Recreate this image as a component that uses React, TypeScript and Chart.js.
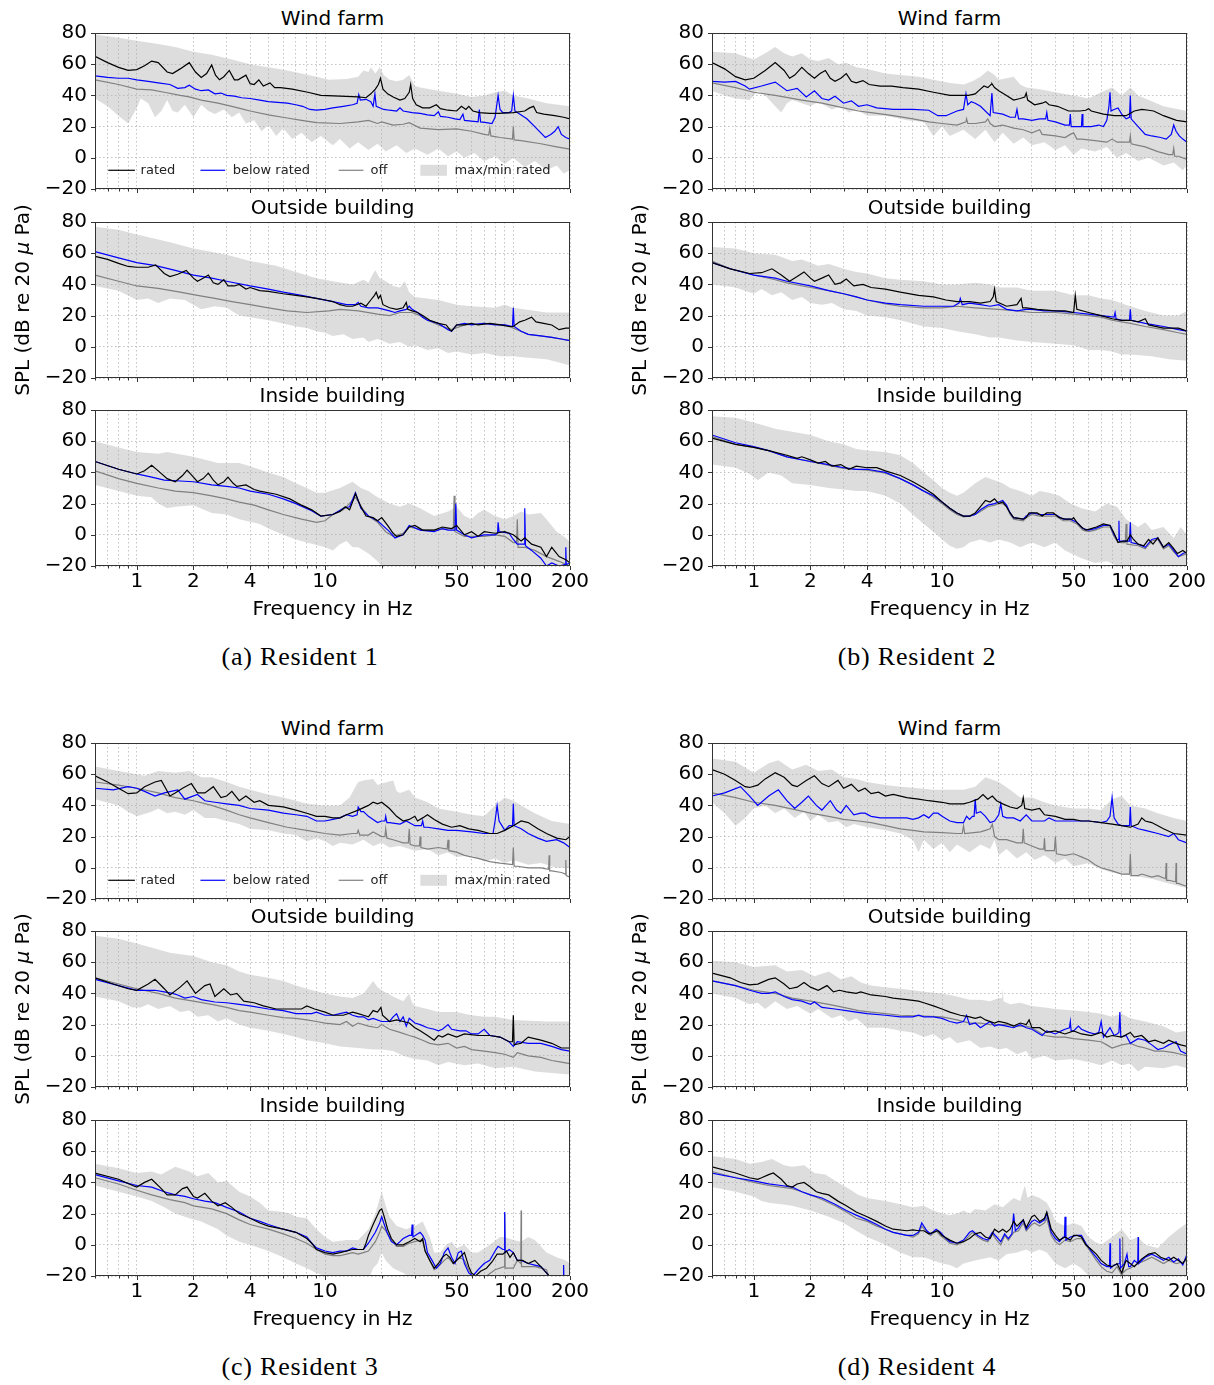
import React, { useEffect, useRef } from "react";
import { Chart, registerables } from "chart.js";

Chart.register(...registerables);

type P = [number, number];

// ===================== DATA (frequency in Hz, SPL in dB) =====================
// ---------- Resident 1 ----------
const r1WfRated: P[] = [[0.6,65],[0.7,61],[0.8,58],[0.9,56],[1.0,56.5],[1.1,59],[1.2,62],[1.3,61],[1.45,55],[1.55,54],[1.7,57],[1.9,61],[2.05,55],[2.2,51.5],[2.35,54],[2.5,59.5],[2.62,53],[2.75,50],[2.9,52],[3.1,56],[3.3,50],[3.45,50],[3.8,53],[4.0,47.5],[4.2,47],[4.45,50],[4.7,46],[5.1,48],[5.4,45],[5.8,45],[6.7,44],[8.1,42],[9.5,40],[12,39.5],[15,39],[16.5,38.5],[17.5,41],[18.5,44],[19.2,47],[19.7,51],[20.3,44],[21.5,41],[23,39],[25,37],[26.5,38],[28,42],[28.5,47],[29.2,38],[30.5,34],[33,32],[36,32],[39,34],[41,31.5],[45,30.5],[50,30],[53,33],[56,31],[58,33],[61,30],[66,29],[75,28.5],[83,28.5],[100,29],[115,30],[122,32],[128,33],[133,29],[145,28],[166,27],[185,26],[200,25]];
const r1WfBelow: P[] = [[0.6,52.5],[0.7,51.5],[0.8,51],[0.9,51],[1.0,50],[1.15,49],[1.3,48],[1.5,47],[1.65,44.5],[1.8,45],[1.9,46.5],[2.05,44],[2.2,43],[2.4,43.5],[2.6,41],[2.8,41.5],[3.0,40],[3.3,39.5],[3.6,38.5],[4.0,38],[4.5,37],[5,36],[5.6,35.5],[6.3,35],[7.0,34],[7.6,33],[8.3,31],[9.0,30.5],[10,31],[11,32],[12.5,33],[14,34],[14.8,35],[15.1,40.5],[15.4,37],[16.5,37.5],[17.5,36],[18.0,33],[18.4,41],[18.7,33],[20.5,31],[22,30.5],[24,30],[25,32],[26,30],[29,29],[32,28.5],[35,27.5],[38,27],[40,29.5],[41,26.5],[45,26],[49,25],[52,24.5],[54,28],[55,24],[60,23.5],[65,23],[66,31],[67,23],[72,22.5],[77,22],[80,26],[83,40],[85,31],[88,29],[95,29],[98,30],[100,40],[102,30],[108,28],[118,25],[130,20],[140,16],[148,13],[158,15],[166,17],[173,20],[180,15],[190,13],[200,12]];
const r1WfOff: P[] = [[0.6,50],[0.8,47],[1.0,44],[1.2,43.5],[1.4,42],[1.7,40],[1.9,39],[2.2,37],[2.7,35],[3.2,33],[3.7,31],[4.0,30],[5,27.5],[6.3,25.5],[7.5,24],[9,22.5],[12,22],[15,23],[17,24],[19,22],[20,23],[23,21],[26,21.5],[28,22.5],[32,19],[40,18],[50,18.5],[60,17],[70,15],[74,14.5],[75,19],[76,14],[85,13],[99,12],[100,20],[101,11.5],[110,11],[140,9],[170,7],[200,5.5]];
const r1WfMax: P[] = [[0.6,79],[0.8,77],[1.0,75],[1.3,73],[1.6,71],[2,68],[2.5,66],[3.2,63],[4,60],[5,58],[6.3,56],[7.5,54],[9,52],[10.5,50],[13,50.5],[15,52],[16,56],[17,55],[17.5,58],[18.5,54],[19.5,58],[20.5,53],[22,50],[24,49],[26,50],[28,53],[30,46],[32,45],[40,43],[50,41],[60,39],[70,40],[80,42],[90,43],[100,40],[120,38],[150,35],[200,33]];
const r1WfMin: P[] = [[0.6,38],[0.7,33],[0.8,27],[0.9,22],[1.0,32],[1.05,38],[1.15,35],[1.25,26],[1.35,30],[1.45,37],[1.55,30],[1.65,29],[1.8,34],[2.0,26],[2.2,34],[2.4,30],[2.6,28],[2.9,31],[3.2,26],[3.5,29],[3.8,22],[4.2,24],[4.6,17],[5,21],[5.5,14],[6,19],[6.7,12],[7.5,16],[8.5,10],[9.5,14],[11,8],[12,12],[13.5,6],[15,10],[17,5],[19,9],[21,4],[24,8],[27,3],[30,6],[35,2],[40,6],[45,1],[50,4],[55,0],[62,3],[70,-2],[80,1],[90,-4],[100,0],[115,-6],[130,-2],[150,-8],[170,-5],[185,-10],[200,-8]];

const r1OutRated: P[] = [[0.6,58],[0.7,56],[0.8,53.5],[0.9,51.5],[1.0,51],[1.15,51],[1.26,52.5],[1.4,47],[1.5,45],[1.65,46.5],[1.83,49],[2.0,44],[2.1,42],[2.25,44],[2.4,46],[2.55,41],[2.7,40],[2.9,43],[3.05,39],[3.3,39],[3.5,40],[3.8,37],[4.0,38],[4.5,36],[5,35.5],[6,34],[7,33],[8,32],[9,31],[10,30],[11,29],[12,27],[13,26],[14,26],[15.5,28],[16.5,26],[17.5,30],[18.3,33],[18.7,35],[19.2,31],[19.7,33],[20.3,27],[22,25],[24,24],[26,25],[27,28.5],[27.5,24],[29,23],[31,22],[33,20],[36,17],[40,15],[44,14],[46,11],[47,10],[50,14],[55,14],[60,15],[65,14],[75,15],[85,14],[95,13],[100,13],[108,16],[115,17],[125,19],[132,16],[145,15],[160,14],[175,11],[190,12],[200,12]];
const r1OutBelow: P[] = [[0.6,61],[0.8,57],[1.0,54],[1.26,52],[1.6,49],[2,46],[2.5,44],[3,42],[4,39],[5,37],[6,35],[7.5,33],[9,31],[11,29],[13,27],[14.5,27],[15,28.5],[15.5,26],[17,25],[19,25],[20.5,24],[22,23],[23.5,22],[25,23],[27,24],[28,26],[29,24],[31,22],[33,19],[35,17],[40,15],[45,11],[47,10],[50,14],[55,15],[60,14],[70,15],[80,14],[90,14],[99,13],[100,25],[101,13],[110,10],[120,8],[140,7],[160,6],[180,5],[200,4]];
const r1OutOff: P[] = [[0.6,46],[0.8,42],[1.0,39],[1.3,37.5],[1.7,35],[2.1,33],[2.6,31],[3.2,29],[4,27],[5,25],[6.3,23],[8,22],[10.5,23],[12,24],[15,23],[19,21],[22,20],[25,22],[29,22],[32,20],[35,17],[40,14],[47,11],[55,14],[70,15],[90,14],[100,12],[120,8],[160,6],[200,4]];
const r1OutMax: P[] = [[0.6,77],[0.8,75],[1.0,72],[1.5,67],[2,63],[3,59],[4,55],[5.5,52],[7,48],[9,44],[11,42],[14,40],[16,43],[17,41],[18,47],[18.5,49],[19.5,44],[21,42],[23,39],[25,38],[26.5,42],[28,35],[30,32],[40,30],[50,27],[60,26],[80,25],[90,27],[100,25],[150,22],[200,22]];
const r1OutMin: P[] = [[0.6,39],[0.8,36],[1.0,30],[1.15,31],[1.3,28],[1.5,31],[1.8,30],[2.2,24],[2.6,26],[3,25],[3.5,20],[4,19],[5,17],[6,15],[7,13],[8,12],[9,10],[10,9],[11,7],[12.5,8],[14,5],[16,6],[17,3],[19,5],[20,4],[22,2],[25,3],[28,0],[30,1],[35,-2],[40,-1],[45,-4],[50,-3],[60,-5],[70,-4],[85,-6],[100,-6],[120,-7],[150,-8],[175,-10],[200,-12]];

const r1InRated: P[] = [[0.6,47],[0.8,42],[1.0,39],[1.1,41],[1.2,44.5],[1.3,41],[1.45,36],[1.6,34],[1.75,38],[1.85,41.5],[2.0,37],[2.1,34],[2.25,36],[2.4,39.5],[2.55,35],[2.7,32],[2.9,34],[3.05,37],[3.25,33],[3.4,31],[3.8,32],[4.2,29],[4.5,28],[5.5,26],[6.5,23],[7.5,19],[8.5,16],[9.5,12],[11,13],[12,15],[12.8,18],[13.5,16],[14.2,23],[14.5,26.5],[15,22],[15.5,18],[16.5,12],[18,11],[19,9],[20,11],[21.5,6],[23,1],[24,-1],[26,0],[28,5],[30,6],[33,3],[38,3],[42,5],[47,4],[50,6],[55,0],[60,2],[65,-1],[70,2],[80,1],[90,2],[100,0],[110,-4],[115,-2],[125,-6],[140,-8],[150,-14],[160,-8],[175,-14],[190,-16],[200,-18]];
const r1InBelow: P[] = [[0.6,47],[0.8,42],[1.0,39],[1.2,37],[1.4,35],[1.7,34.5],[2,34],[2.5,32],[3,31],[3.5,30],[4,28],[5,26],[6,23],[7,20],[8.3,16],[9.5,12],[11,13],[12.5,17],[13.5,18],[14.5,27],[15.5,17],[17,12],[19,9],[22,2],[23.5,-2],[26,0],[28,6],[32,3],[38,2],[42,4],[45,3],[49,3],[49.5,20],[50,3],[55,0],[60,-2],[70,0],[80,0],[82.5,1],[83,8],[84,2],[95,1],[100,-3],[105,-6],[114,-6],[115,17],[116,-7],[125,-10],[140,-15],[150,-20],[160,-18],[175,-20],[189,-19],[190,-8],[191,-19],[200,-18]];
const r1InOff: P[] = [[0.6,41],[0.8,36],[1.0,33],[1.3,30],[1.6,28],[2,27],[2.5,25],[3,23],[3.5,21],[4.2,19],[5,16],[6,13],[7.5,10],[9,8],[10,9],[11,13],[12.5,16],[14.5,24],[16,16],[17,12],[19,8],[21,2],[23,-1],[26,1],[28,5],[33,3],[38,3],[45,4],[48,4],[48.5,25],[49,2],[55,-1],[70,-1],[80,0],[90,-1],[100,-5],[104,-5],[105,10],[106,-8],[115,-8],[130,-10],[150,-14],[175,-17],[200,-20]];
const r1InMax: P[] = [[0.6,60],[0.8,56],[1.0,53],[1.3,52],[1.45,53],[2,50],[2.7,46],[3.5,46],[4,44],[5,40],[6,37],[7,33],[8,30],[9,27],[10,27],[12,30],[14,34],[15.5,30],[17,28],[19,24],[22,20],[25,18],[28,20],[32,17],[38,12],[45,15],[50,18],[55,12],[60,10],[65,14],[70,16],[80,12],[90,10],[100,12],[110,15],[120,13],[140,14],[150,10],[170,2],[190,-2],[200,-5]];
const r1InMin: P[] = [[0.6,32],[0.8,28],[1.0,25],[1.2,24],[1.3,20],[1.45,17],[1.6,18],[2,19],[2.5,14],[3,13],[3.5,10],[4.5,7],[5,4],[6,0],[7,-3],[8,-5],[10,-8],[11,-10],[12,-6],[13,-4],[14,-8],[15,-8],[17,-12],[19,-17],[20,-20],[22,-25],[200,-25]];

// ---------- Resident 2 ----------
const r2WfRated: P[] = [[0.6,61],[0.7,57],[0.8,52],[0.9,50],[1.0,51],[1.15,56],[1.3,61],[1.45,56],[1.55,51],[1.65,53],[1.8,58],[1.95,54],[2.1,51],[2.25,54],[2.4,56],[2.55,51],[2.7,49],[2.9,51],[3.1,54],[3.3,49],[3.5,48],[3.8,49.5],[4.1,47],[4.7,46],[5.4,46],[6.2,45],[7.5,44],[9,42],[11,40],[12,40],[13.8,40],[15,41],[16,44],[16.7,46],[17.5,45],[18.2,47],[18.4,47.5],[19,45],[20,43],[22,40],[24,37],[26,38],[27.5,39],[28,41.5],[28.5,37],[31,34],[34,35],[35.5,36],[37,34],[41,33],[47,30],[54,30],[58,30.5],[60,31.5],[62,30],[72,28],[82,27],[95,27],[105,30],[115,31],[125,30.5],[133,30],[150,27],[176,24],[200,23]];
const r2WfBelow: P[] = [[0.6,49],[0.7,48.5],[0.8,49],[0.9,46],[0.95,44],[1.1,46],[1.3,48.5],[1.5,43],[1.7,44.5],[1.9,39],[2.1,43],[2.3,38],[2.5,37],[2.7,39.5],[3.0,35],[3.3,36.5],[3.6,33],[4,34],[4.5,32],[5.5,31],[7,31],[8.5,30.5],[9.5,27],[10.5,27],[12,30],[13,31],[13.4,41],[13.7,34],[14.3,36],[15,35],[16,33],[18,27],[18.4,41.5],[18.7,29],[21,28],[23,26],[24.5,26],[25,31],[25.5,25],[27,25],[30,24],[33,25],[35.5,25],[36,29],[36.5,24],[40,23],[45,21],[47.5,21],[48,28],[48.5,20],[52,20],[55,20],[55.5,28],[56,20],[62,20],[68,21],[72,20],[75,24],[77,33],[78,42],[79,30],[82,31],[86,32],[90,28],[95,25],[99,26],[100,40],[101,25],[110,20],[120,15],[130,14],[145,13],[155,12],[165,15],[170,21],[175,17],[182,14],[190,12],[200,10]];
const r2WfOff: P[] = [[0.6,48],[0.8,45],[1.0,42],[1.3,40],[1.8,37],[2.3,35],[3,32],[3.6,30],[4.2,29],[5.5,27],[7,25],[8.5,23],[10,22],[12,21],[13.4,23],[13.5,25],[13.7,22],[15,22],[17,23],[17.5,25],[18,22],[19,20],[21,21],[24,19],[27,18],[30,16],[33,18],[34,15],[40,14],[45,13],[48,15],[50,16],[52,12],[55,12],[65,11],[75,10],[80,12],[85,10],[95,10],[99,10],[100,14],[101,9],[110,8],[120,7],[140,4],[160,2],[168,2],[170,6],[172,1],[180,1],[200,-1]];
const r2WfMax: P[] = [[0.6,68],[0.8,67],[1.0,63],[1.15,67],[1.3,71],[1.45,67],[1.6,65],[1.8,67],[2.0,63],[2.2,62],[2.5,64],[2.8,60],[3.1,61],[3.5,58],[4,57],[5,54],[6,53],[7.5,52],[9,50],[11,48],[13,47],[14.5,49],[16,52],[17.5,56],[19,53],[20,50],[22,51],[24,52],[26,47],[28,45],[33,44],[40,42],[50,40],[60,38],[70,42],[80,45],[90,40],[100,45],[110,40],[120,38],[150,33],[200,30]];
const r2WfMin: P[] = [[0.6,43],[0.7,40],[0.8,38],[0.95,37],[1.05,43],[1.15,40],[1.3,33],[1.4,29],[1.5,35],[1.6,37],[1.8,35],[2,33],[2.2,36],[2.6,31],[2.9,33],[3.2,29],[3.5,31],[4,27],[5,27],[6.5,24],[8,23],[9,14],[10,20],[11,14],[13,18],[15,12],[17,18],[19,10],[21,16],[24,9],[27,13],[30,8],[35,10],[40,5],[45,8],[50,2],[55,6],[65,4],[75,7],[85,0],[95,3],[110,-2],[125,0],[150,-5],[170,-3],[190,-8],[200,-5]];

const r2OutRated: P[] = [[0.6,54],[0.75,50],[0.95,47],[1.1,47.5],[1.25,50],[1.4,46],[1.55,42],[1.7,45],[1.85,48],[2.0,44],[2.1,42],[2.3,44],[2.5,46],[2.7,40],[2.9,41],[3.1,43.5],[3.4,39],[3.8,40],[4.2,38],[5,37],[6,35],[7.5,33],[9,32],[10.5,30],[12,29],[14,29],[16,28],[18,29],[18.7,32],[19,37],[19.4,29],[22,26],[25,27],[26.3,31],[26.8,25],[28,25],[32,24],[40,23],[45,23],[50,22],[51,33],[52,24],[60,22],[70,20],[80,18],[90,17],[100,17],[110,16],[120,18],[125,14],[150,12],[180,12],[200,10]];
const r2OutBelow: P[] = [[0.6,54],[0.75,50],[1.0,46],[1.3,44],[1.5,42],[2,39],[2.5,36],[3,34],[3.5,32],[4,30],[5,28],[6,27],[8,26],[10,26],[11.5,26],[12.3,28],[12.5,31],[12.8,27],[14,28],[16,27],[18,26],[20,27],[22,24],[25,23],[28,24],[30,24],[35,23],[40,23],[50,22],[60,21],[70,20],[82,19],[83,22],[84,18],[90,17],[99,17],[100,24],[101,17],[120,15],[150,13],[180,11],[200,10]];
const r2OutOff: P[] = [[0.6,55],[0.75,50],[1.0,46],[1.3,43],[1.5,41],[2,38],[2.5,36],[3,34],[3.5,32],[4,30],[5,27.5],[6,26],[8,25],[10,25],[12,26],[15,25],[20,24],[25,23],[30,22],[40,22],[50,21],[60,20],[70,19],[80,17],[90,16],[100,15],[120,13],[150,11],[180,9],[200,8]];
const r2OutMax: P[] = [[0.6,64],[0.8,63],[1.0,60],[1.3,59],[1.6,55],[1.8,56],[2.2,52],[2.5,53],[3,50],[3.5,48],[4,47],[5,44],[6,43],[8,42],[10,40],[12,40],[15,41],[18,40],[20,38],[25,38],[30,36],[40,36],[50,33],[60,33],[70,31],[80,30],[100,26],[120,23],[150,20],[180,20],[200,23]];
const r2OutMin: P[] = [[0.6,40],[0.8,38],[1.0,34],[1.1,37],[1.25,33],[1.4,35],[1.6,30],[1.8,32],[2,28],[2.3,27],[2.6,28],[3,24],[3.5,23],[4,20],[5,19],[6,17],[7,15],[8,13],[10,12],[12,10],[15,8],[18,6],[20,6],[25,4],[30,3],[40,2],[50,1],[60,-2],[70,-2],[80,-3],[90,-5],[100,-5],[130,-6],[160,-8],[200,-9]];

const r2InRated: P[] = [[0.6,62],[0.8,58],[1.0,56],[1.2,54],[1.5,51],[1.7,49],[1.8,50],[2,48],[2.2,46],[2.4,47],[2.6,44],[2.9,45],[3.2,42],[3.5,44],[4,43],[4.5,43],[5,41],[6,38],[7,34],[8,30],[9,26],[10,21],[11,17],[12,14],[13,12],[14,12],[15,14],[16,18],[17,22],[18,21],[19,23],[20,20],[21,21],[22,18],[23,14],[24,11],[27,10],[28,11],[29,14],[32,14],[34,12],[36,14],[39,14],[42,11],[45,10],[49,10],[50,11],[52,8],[55,5],[58,3],[62,4],[66,5],[72,7],[78,6],[82,1],[86,-5],[92,-4],[96,-4],[100,0],[104,-3],[110,-6],[118,-7],[125,-3],[132,-6],[140,-2],[150,-8],[160,-5],[168,-8],[178,-12],[190,-10],[200,-12]];
const r2InBelow: P[] = [[0.6,64],[0.8,59],[1.0,56.5],[1.2,54],[1.5,50],[2,47],[2.5,45],[3,43],[3.5,42],[4,42],[5,40],[6,36],[7,32],[8,28],[9,25],[10,21],[11,17],[12,14],[13,12],[14,12],[15,13],[16,16],[17.5,19],[19,20],[20,21],[21,22],[22,19],[23,14],[24,11],[27,10],[28,12],[30,14],[33,13],[36,13],[40,13],[44,10],[48,10],[52,8],[56,4],[60,3],[65,4],[72,6],[78,6],[82,0],[85,-3],[86.5,-3],[87,9],[87.5,-4],[90,-4],[99,-4],[100,8],[101,-5],[110,-6],[120,-8],[130,-3],[140,-2],[150,-8],[160,-6],[170,-10],[180,-14],[190,-12],[200,-11]];
const r2InOff: P[] = [[0.6,63],[0.8,58],[1.0,56],[1.2,54],[1.5,50],[2,47],[2.5,44.5],[3,42.5],[3.5,42],[4,41.5],[5,39.5],[6,36],[7,32],[8,28],[9,24],[10,20],[11,16],[12,13],[13,11.5],[14,12],[15,13],[16,15],[17.5,18],[19,19],[20,20],[21,20],[22,18],[23,13],[24,10],[27,9],[28,11],[30,13],[33,12],[36,12],[40,12],[44,9],[48,9],[52,7],[56,3],[60,2],[65,3],[72,5],[78,5],[82,-1],[85,-4],[90,-5],[94,-5],[95,7],[96,-6],[110,-7],[120,-9],[130,-4],[140,-3],[150,-9],[160,-7],[170,-11],[180,-14],[190,-13],[200,-12]];
const r2InMax: P[] = [[0.6,76],[0.8,75],[1.0,72],[1.3,68],[1.6,66],[2,64],[2.5,60],[3,58],[3.5,55],[4,54],[5,53],[6,51],[7,46],[8,40],[9,35],[10,30],[11,27],[12,25],[13,27],[15,33],[17,37],[19,35],[21,33],[23,30],[26,28],[30,25],[33,28],[37,27],[42,25],[48,20],[55,17],[65,15],[75,20],[85,18],[95,10],[110,5],[120,8],[130,3],[150,5],[170,-2],[185,5],[200,0]];
const r2InMin: P[] = [[0.6,45],[0.8,43],[0.95,39],[1.05,35],[1.2,40],[1.4,38],[1.6,33],[2,32],[2.5,30],[3,29],[3.5,28],[4,28],[5,25],[6,20],[7,13],[8,7],[9,2],[10,-3],[11,-7],[12,-9],[13,-8],[14,-5],[16,-3],[18,-5],[20,-3],[23,-5],[26,-8],[30,-5],[35,-8],[40,-5],[45,-10],[55,-15],[65,-18],[75,-17],[85,-20],[90,-25],[200,-25]];

// ---------- Resident 3 ----------
const r3WfRated: P[] = [[0.6,59],[0.7,55],[0.8,51],[0.9,47.5],[1.0,48],[1.1,52],[1.25,55],[1.35,56],[1.5,46],[1.6,48],[1.75,51],[1.95,54],[2.1,48],[2.3,48],[2.55,52],[2.8,45],[3.0,46],[3.2,49],[3.5,43],[3.8,46],[4.2,42],[4.5,43],[5,40],[6,39],[7,37],[8,35],[9,33],[10,33],[11,32],[12,32],[13,34],[15,37],[17,40],[18,42],[19,41],[20,42],[22,38],[24,33],[26,30],[28,31],[30,33],[31,30],[33,32],[35,34],[38,31],[42,28],[47,26],[52,27],[58,25],[65,24],[75,22],[82,22],[90,24],[100,27],[110,30],[120,29],[135,25],[150,22],[170,19],[190,18],[200,20]];
const r3WfBelow: P[] = [[0.6,51],[0.75,50],[0.9,52],[1.0,51],[1.1,49],[1.25,46],[1.4,48],[1.65,50],[1.8,44],[2.1,47],[2.3,43],[2.6,42],[3,41],[3.5,40],[4,38],[5,37],[6,35],[7,34],[8,33],[9,30],[10,30],[11,31],[12,32],[13,34],[14,33],[14.8,34],[15,39],[15.5,36],[16,36],[17,33],[18,31],[19,29],[20,30],[20.8,30],[21,33],[21.3,29],[22,29],[25,28],[27,30],[30,27],[32.5,27],[33,30],[33.5,26],[35,26],[40,25],[45,24],[50,24],[60,23],[70,22],[78,22],[80,30],[82,40],[84,30],[87,27],[90,24],[95,27],[99,27],[100,41],[101,27],[110,25],[120,22],[135,19],[150,17],[170,18],[185,16],[200,13]];
const r3WfOff: P[] = [[0.6,55],[0.8,53],[1.0,51],[1.3,48],[1.6,45],[2,43],[2.5,40],[3,37],[3.5,34],[4,32],[5,29],[6.3,26],[8,24],[10,22],[12,21],[14,22],[14.8,22],[15,24],[15.3,21],[17,21],[18,23],[20,20],[20.8,20],[21,25],[21.3,19],[23,18],[26,16],[27.7,16],[28,25],[28.3,15],[30,14],[31.7,14],[32,20],[32.3,13],[35,12],[40,13],[44.5,12],[45,18],[45.5,11],[50,10],[55,8],[65,6],[75,4],[85,3],[99,2],[100,13],[101,1],[105,1],[120,0],[140,0],[154,-1],[155,8],[156,-2],[160,-2],[180,-3],[189,-4],[190,5],[191,-5],[200,-6]];
const r3WfMax: P[] = [[0.6,65],[0.8,62],[1.0,60],[1.1,59],[1.3,62],[1.6,61],[1.9,62],[2.2,58],[2.5,58],[3,55],[3.5,52],[4,50],[5,47],[6,45],[7,43],[8,41],[10,40],[12,40],[13.5,45],[14.5,52],[15,55],[16,56],[18,57],[19,53],[20,54],[23,56],[24,49],[25,48],[28,50],[30,45],[35,42],[40,38],[50,36],[60,34],[70,33],[80,40],[90,45],[100,43],[110,40],[130,35],[160,30],[200,28]];
const r3WfMin: P[] = [[0.6,44],[0.8,40],[0.9,36],[1.0,33],[1.2,36],[1.3,38],[1.45,35],[1.6,36],[1.8,34],[2,37],[2.3,32],[2.6,32],[3,30],[3.5,28],[4,25],[5,24],[6,22],[7,21],[8,17],[9,19],[10,17],[11,14],[12,16],[14,15],[16,18],[18,14],[20,16],[22,13],[25,14],[30,11],[35,12],[40,8],[45,10],[50,7],[60,8],[70,4],[80,6],[90,3],[100,5],[120,2],[140,3],[170,0],[200,0]];

const r3OutRated: P[] = [[0.6,50],[0.75,46],[0.9,43],[1.0,42],[1.15,46],[1.25,49],[1.4,43],[1.5,39],[1.7,44],[1.85,48],[2.05,40],[2.3,45],[2.45,46],[2.6,38],[2.9,43],[3.15,39],[3.4,40],[3.7,35],[4.2,34],[4.7,32],[5.5,30],[6.5,30],[7.5,30],[8,32],[8.8,30],[10,28],[11,26],[12.5,26],[14,28],[15,27],[16,26],[17,25],[18,29],[19,28],[19.8,31],[20.2,26],[22,22],[24,23],[26,22],[28,21],[30,18],[32,16],[35,13],[38,10],[40,13],[42,12],[45,14],[50,12],[55,14],[65,13],[75,13],[85,12],[95,9],[99,9],[100,26],[101,7],[110,8],[120,12],[140,10],[160,8],[180,5],[200,5]];
const r3OutBelow: P[] = [[0.6,49],[0.8,45],[1.0,42],[1.25,42],[1.4,41],[1.55,40],[1.65,39],[1.8,37],[2.0,38],[2.2,36],[2.6,34.5],[3,34],[3.5,33],[4,32],[5,30],[6,29],[7,27],[8.5,27],[9,28],[10,26],[11,26],[12,27],[13,28],[14,26],[15,25],[16,25],[17,23],[18,24],[20,22],[22,22],[23,25],[24,27],[25,22],[26,25],[27,19],[28,24],[30,21],[32,20],[35,18],[38,17],[40,16],[42,17],[45,20],[47,17],[52,16],[56,16],[60,14],[65,14],[70,17],[75,13],[85,12],[95,9],[100,6],[105,9],[120,8],[140,8],[160,6],[180,4],[200,3]];
const r3OutOff: P[] = [[0.6,50],[0.8,46],[1.0,43],[1.3,40],[1.6,37],[2,35],[2.5,33],[3,31],[3.5,29],[4,28],[5,26],[6,24.5],[7,24],[8,23],[9,22],[10,21],[12,20],[13,22],[14,19],[15,21],[17,19],[19,18],[20,20],[22,17],[25,15],[28,13],[30,12],[33,10],[36,8],[40,7],[45,8],[50,5],[55,6],[60,4],[70,3],[80,2],[90,1],[100,-1],[105,2],[120,0],[140,-1],[160,-3],[180,-4],[200,-5]];
const r3OutMax: P[] = [[0.6,77],[0.8,75],[1.0,72],[1.5,66],[2,64],[2.5,60],[3,58],[3.5,54],[4,52],[5,50],[6,48],[7,45],[8,43],[10,40],[12,38],[14,37],[16,40],[17,44],[18,48],[19,44],[20,42],[23,38],[26,35],[28,40],[29,34],[30,32],[35,30],[40,28],[50,28],[60,26],[70,25],[80,25],[100,23],[150,22],[200,22]];
const r3OutMin: P[] = [[0.6,38],[0.8,35],[0.95,31],[1.05,31],[1.15,33],[1.3,30],[1.5,32],[1.7,28],[1.9,29],[2.1,25],[2.4,26],[2.7,22],[3,24],[3.5,20],[4,18],[5,16],[6,14],[7,12],[8,10],[9,9],[10,8],[12,6],[15,5],[18,4],[20,4],[23,3],[26,0],[30,-2],[35,-3],[40,-6],[45,-4],[55,-6],[65,-5],[80,-8],[100,-7],[130,-10],[160,-11],[200,-12]];

const r3InRated: P[] = [[0.6,46],[0.8,42],[0.95,38],[1.0,37],[1.1,40],[1.2,42],[1.35,36],[1.45,32],[1.6,32],[1.75,36],[1.85,37],[2.0,31],[2.1,30],[2.3,33],[2.5,28],[2.7,25],[2.95,27],[3.2,24],[3.5,20],[4,17],[4.5,14],[5,12],[6,10],[7,8],[7.5,6],[8,4],[8.5,1],[9,-3],[10,-5],[11,-6],[12,-5],[14,-3],[15,-3],[16,-3],[16.5,1],[17,6],[18,13],[18.8,18],[19.5,22],[20,23],[20.5,19],[21.5,10],[22.5,4],[24,0],[26,0],[28,2],[30,4],[32,2],[33,4],[34,-4],[36,-10],[38,-15],[40,-12],[42,-8],[44,-6],[46,-8],[48,-12],[52,-8],[55,-5],[58,-14],[60,-18],[63,-20],[67,-17],[72,-15],[77,-11],[82,-6],[88,-6],[92,-4],[96,-8],[100,-5],[105,-10],[112,-10],[120,-12],[130,-10],[140,-14],[150,-18],[160,-22],[200,-25]];
const r3InBelow: P[] = [[0.6,45],[0.8,41],[1.0,38],[1.2,37],[1.4,34],[1.6,32],[1.8,31],[2,29.5],[2.3,28],[2.6,27],[3,24],[3.5,21],[4,17],[4.5,15],[5,13],[6,10],[7,8],[8,5],[8.5,1],[9,-2],[10,-4],[11,-5],[12,-4],[13,-4],[14,-2],[15,-3],[16,-3],[17,1],[18.5,8],[19.5,14],[20,18],[20.5,14],[21.5,7],[22.5,2],[24,0],[25,2],[26,4],[28,6],[28.8,6],[29,13],[29.3,5],[32,8],[33,6],[34,3],[35,-5],[37,-10],[39,-15],[41,-12],[43,-5],[45,-2],[47,-8],[49,-12],[51,-5],[53,-4],[55,-12],[58,-18],[61,-20],[65,-16],[70,-12],[75,-10],[80,-4],[83,-1],[88,-3],[89.5,-3],[90,21],[90.5,-5],[95,-3],[100,-5],[105,-10],[110,-10],[120,-12],[130,-13],[140,-14],[150,-18],[160,-22],[170,-30],[184,-28],[185,-13],[186,-28],[200,-30]];
const r3InOff: P[] = [[0.6,43],[0.8,39],[1.0,35],[1.2,32],[1.5,29],[1.8,27],[2,25],[2.5,23],[3,20],[3.5,16],[4,13],[5,10],[6,7],[7,4],[8,1],[9,-3],[10,-6],[11,-7],[12,-7],[13,-6],[14,-5],[15,-6],[16,-5],[17,-4],[18.5,2],[19.5,8],[20,12],[21,9],[22.5,3],[24,-1],[26,-1],[28,1],[30,2],[32,3],[33,2],[34,-4],[36,-10],[38,-16],[40,-14],[43,-10],[45,-8],[48,-12],[52,-8],[55,-10],[58,-16],[62,-22],[66,-20],[72,-20],[80,-16],[89.5,-14],[90,20],[90.5,-15],[100,-15],[105,-10],[109.5,-12],[110,22],[110.5,-14],[115,-14],[130,-14],[140,-15],[150,-16],[160,-25],[200,-28]];
const r3InMax: P[] = [[0.6,52],[0.8,49],[1.0,46],[1.2,47],[1.35,45],[1.6,50],[1.9,47],[2.1,44],[2.4,46],[2.7,40],[3,41],[3.5,34],[4,31],[4.5,27],[5,22],[6,21],[6.5,20],[7,18],[8,17],[9,10],[10,5],[11,2],[13,3],[15,3],[17,10],[18.5,20],[20,34],[21,25],[22,18],[24,12],[27,10],[30,12],[33,15],[36,5],[38,-5],[41,-5],[44,0],[47,2],[50,-2],[55,0],[60,-5],[65,-5],[75,0],[85,5],[90,5],[100,3],[110,2],[120,5],[130,3],[150,-5],[170,-8],[190,-10],[200,-12]];
const r3InMin: P[] = [[0.6,38],[0.8,34],[1.0,31],[1.2,28],[1.4,24],[1.6,20],[1.9,17],[2.2,15],[2.7,10],[3,6],[3.5,2],[4,0],[5,-4],[6,-8],[7,-12],[8,-15],[9,-18],[10,-20],[12,-23],[17,-23],[18,-15],[19,-12],[20,-5],[21,-10],[23,-15],[26,-18],[30,-23],[200,-25]];

// ---------- Resident 4 ----------
const r4WfRated: P[] = [[0.6,63],[0.7,60],[0.8,56],[0.9,52],[0.95,51.5],[1.05,53],[1.15,57],[1.3,61],[1.45,58],[1.6,53],[1.7,52],[1.9,56],[2.1,59],[2.3,54],[2.5,52],[2.8,56],[3.0,51],[3.3,53.5],[3.6,49],[3.9,51],[4.2,47.5],[4.6,48.5],[5,46],[5.5,47],[6.5,45],[7.5,44],[8.5,43],[10,42],[11,41],[13,41],[14,42],[15.5,44],[16.5,47],[17.5,44],[18.5,46],[19.5,43],[21,41],[23,39],[25,38],[26.5,40],[27,45],[27.5,38],[30,37],[33,38],[35,34],[40,33],[45,31],[50,31],[55,30],[60,30],[70,29],[80,28],[90,27],[100,26],[110,28],[115,32],[120,30],[130,29],[150,25],[170,22],[200,21]];
const r4WfBelow: P[] = [[0.6,46],[0.7,48],[0.85,52],[0.95,46],[1.05,40],[1.2,46],[1.35,50],[1.5,43],[1.65,38],[1.8,42],[1.95,46],[2.15,40],[2.3,37],[2.55,43],[2.75,37],[2.9,35],[3.1,40],[3.4,34],[3.7,35],[3.9,35],[4.2,33],[4.7,32],[5.5,32],[6.5,32],[7,31],[7.5,32],[8,34],[8.5,32],[9,35],[9.5,35],[10,33],[11,30],[12,29],[13,29],[13.5,33],[14,31],[14.5,33],[14.8,33],[15,44],[15.2,35],[16,36],[17,33],[18,29],[19,30],[20,34],[20.5,41],[21,33],[22,32],[24,32],[26,30],[28,34],[30,30],[33,30],[35,30],[37,32],[40,30],[45,30],[50,30],[60,30],[70,29],[75,30],[78,33],[80,45],[82,32],[86,28],[90,27],[99,27],[100,39],[101,27],[110,25],[120,24],[140,22],[160,20],[170,22],[180,18],[200,16]];
const r4WfOff: P[] = [[0.6,48],[0.8,45],[1.0,42],[1.3,40],[1.7,37],[2,35],[2.5,33],[3,31],[3.6,30],[4.2,29],[5,27],[6,25],[7,24],[8,23],[10,22.5],[12,22],[12.8,22],[13,27],[13.2,22],[16,23],[17,24],[18,25],[18.5,28],[19,20],[20,18],[22,18],[25,16],[26.7,16],[27,25],[27.3,16],[30,14],[33,12],[34.7,12],[35,19],[35.3,11],[39.5,11],[40,20],[40.5,9],[45,8],[50,9],[55,7],[60,5],[65,2],[70,0],[80,-2],[90,-4],[99,-4],[100,9],[101,-5],[110,-5],[115,-4],[130,-6],[140,-5],[154,-7],[155,3],[156,-8],[160,-8],[174,-9],[175,3],[176,-10],[180,-10],[200,-12]];
const r4WfMax: P[] = [[0.6,70],[0.8,68],[1.0,61],[1.2,67],[1.35,69],[1.6,63],[1.9,66],[2.2,62],[2.6,63],[3,58],[3.5,57],[4,55],[5,53],[6,52],[7.5,51],[9,50],[11,50],[13,50],[15,52],[17,58],[20,55],[23,50],[26,45],[30,45],[35,42],[40,40],[50,38],[60,38],[70,37],[80,44],[90,46],[100,40],[120,38],[140,35],[170,32],[200,30]];
const r4WfMin: P[] = [[0.6,42],[0.7,35],[0.8,27],[0.9,32],[1.0,38],[1.15,40],[1.3,35],[1.45,38],[1.65,32],[1.85,36],[2.0,30],[2.2,34],[2.5,29],[2.8,30],[3.1,26],[3.4,28],[4,26],[5,24],[6,22],[7,18],[7.5,10],[8,18],[9,12],[10,16],[11,10],[12,15],[14,10],[16,15],[18,12],[19,18],[20,8],[22,12],[25,6],[28,10],[31,5],[35,8],[40,3],[45,6],[50,1],[60,3],[70,-1],[80,-3],[100,-5],[130,-7],[160,-10],[200,-13]];

const r4OutRated: P[] = [[0.6,53],[0.75,50],[0.85,47],[0.95,45.5],[1.05,46],[1.2,49],[1.3,50],[1.45,46],[1.55,43],[1.7,44],[1.85,47],[2,44],[2.2,42],[2.45,45],[2.65,41],[2.85,42],[3.1,41],[3.5,40],[3.7,41],[4.2,39],[5,38],[5.5,37],[6.5,36],[7.5,35],[8,34],[9,32],[10,30],[11,28],[12.5,26],[14,25],[15,24],[16,25],[17,23],[19,21],[20,22],[22,21],[24,19],[26,21],[28,20],[29,23],[30,18],[33,18],[36,15],[40,16],[45,14],[50,16],[55,14],[62,13],[70,15],[75,12],[80,13],[90,12],[100,15],[105,12],[115,13],[125,9],[135,10],[150,8],[160,10],[175,8],[185,7],[200,6]];
const r4OutBelow: P[] = [[0.6,48],[0.8,45],[0.95,42],[1.1,40],[1.2,40],[1.3,41],[1.45,38],[1.6,36],[1.8,35],[2,33],[2.1,34.5],[2.3,31],[2.7,30],[3.1,29],[3.5,28],[4,27],[5,26],[6,25],[7,25],[7.5,26],[8,25],[9,25],[10,24],[11,22],[12,21],[13,22],[13.5,26],[14,20],[15,21],[16,18],[17,20],[18,22],[19,19],[20,20],[22,19],[24,18],[26,20],[28,18],[30,17],[32,15],[34,13],[36,16],[40,14],[43,16],[45,17],[47.5,18],[48,22],[48.5,16],[50,16],[53,19],[55,17],[60,15],[65,14],[68,15],[70,22],[72,12],[75,15],[78,18],[82,13],[85,14],[87,15],[88,28],[89,12],[95,13],[100,8],[110,11],[120,10],[130,7],[140,4],[150,5],[160,7],[175,9],[185,3],[200,1]];
const r4OutOff: P[] = [[0.6,48],[0.8,45],[1.0,42],[1.3,40],[1.6,37],[2,35],[2.5,33],[3,31],[3.6,29],[4.2,28],[5,27],[6,26],[8,25.5],[10,25],[11,24],[12,23],[14,21],[16,21],[18,20],[20,20],[22,20],[25,19],[28,19],[30,18],[33,15],[35,13],[40,12],[45,12],[50,11],[60,10],[70,9],[75,7],[80,5],[90,7],[100,8],[110,6],[120,5],[135,3],[150,3],[170,2],[185,1],[200,0]];
const r4OutMax: P[] = [[0.6,61],[0.8,60],[1.0,57],[1.3,58],[1.5,54],[1.8,55],[2.1,51],[2.5,54],[2.9,49],[3.3,51],[3.7,47],[4.2,45],[5,44],[6,43],[7,42],[8,41],[10,40],[12,38],[14,36],[16,36],[18,35],[20,37],[20.8,37],[21,43],[21.2,35],[23,33],[26,34],[30,32],[35,31],[40,30],[50,29],[60,28],[70,27],[80,25],[90,27],[100,24],[120,22],[150,19],[175,15],[200,16]];
const r4OutMin: P[] = [[0.6,40],[0.8,37],[0.95,33],[1.05,34],[1.15,30],[1.3,35],[1.5,30],[1.7,32],[2.0,27],[2.2,30],[2.6,24],[2.9,26],[3.2,22],[3.5,24],[4,18],[5,18],[6,16],[7,15],[8,12],[9,14],[10,10],[11,12],[12,8],[14,10],[16,5],[18,6],[20,4],[22,5],[25,1],[28,3],[30,-2],[35,0],[40,-3],[50,-2],[60,-4],[70,-6],[80,-3],[90,-6],[100,-5],[110,-10],[120,-7],[150,-8],[175,-6],[200,-8]];

const r4InRated: P[] = [[0.6,50],[0.8,46],[0.95,43],[1.05,42],[1.1,43],[1.2,45],[1.27,46],[1.4,42],[1.5,38],[1.6,37],[1.7,39],[1.85,40],[2.0,37],[2.15,34],[2.3,33],[2.5,32],[2.8,28],[3.1,25],[3.5,21],[4,18],[4.5,15],[5,12],[5.5,10],[6.5,9],[7,9.5],[7.5,9],[8,9],[8.5,7],[9,8],[9.5,9],[10,6],[11,3],[12,1],[13,2],[14,4],[15,7],[16,8],[17,5],[18,4],[19,10],[20,8],[21,10],[22,8],[23,10],[24,15],[25,12],[27,16],[28,11],[30,18],[31,19],[33,15],[35,17],[36,21],[38,10],[40,6],[42,3],[45,5],[48,3],[50,6],[52,6],[55,5],[58,0],[62,-3],[66,-6],[70,-10],[75,-13],[80,-14],[85,-12],[90,-18],[95,-10],[100,-12],[105,-14],[115,-9],[125,-6],[135,-5],[145,-8],[160,-10],[170,-8],[180,-10],[190,-12],[200,-8]];
const r4InBelow: P[] = [[0.6,46],[0.8,43],[1.0,41],[1.2,39],[1.4,38],[1.6,37],[1.8,34],[2,32],[2.3,30],[2.7,26],[3.1,22],[3.5,19],[4,16],[4.5,13],[5,10],[5.5,8],[6.5,6],[7,6],[7.5,8],[7.8,14],[8.3,9],[8.7,7],[9.3,10],[9.8,8],[10.5,4],[11,2],[12,1],[13,3],[14,8],[14.5,9],[15.5,6],[16.5,4],[17.5,3],[18.5,8],[19.5,5],[20.5,2],[21.5,7],[22.5,4],[23.5,7],[24,20],[24.5,9],[25.5,11],[27,16],[28,10],[30,15],[31,16],[33,14],[35,16],[36,20],[38,8],[40,4],[42,2],[44,5],[44.7,5],[45,18],[45.5,3],[48,5],[52,6],[55,6],[58,1],[62,-4],[66,-8],[70,-12],[75,-14],[77.5,-14],[78,1],[78.5,-15],[82,-13],[87.5,-12],[88,4],[88.5,-15],[93,-12],[96,-6],[98,-14],[100,-14],[105,-10],[109.5,-12],[110,5],[110.5,-12],[120,-8],[130,-6],[140,-8],[150,-10],[160,-8],[170,-11],[180,-9],[190,-13],[200,-6]];
const r4InOff: P[] = [[0.6,47],[0.8,43],[1.0,40],[1.2,38],[1.4,37],[1.6,36],[1.8,34],[2,32],[2.3,29],[2.7,25],[3.1,21],[3.5,17],[4,15],[4.5,12],[5,10],[5.5,8],[6.5,6],[7,5],[7.5,7],[7.8,12],[8.3,8],[8.7,6],[9.3,9],[9.8,6],[10.5,3],[11,1],[12,0],[13,2],[14,6],[14.5,8],[15.5,5],[16.5,3],[17.5,2],[18.5,7],[19.5,3],[20.5,0],[21.5,6],[22.5,3],[24,8],[25.5,9],[27,14],[28,9],[30,13],[31,14],[33,12],[35,14],[36,17],[38,6],[40,2],[42,0],[45,3],[48,2],[52,4],[55,4],[58,0],[62,-5],[66,-10],[70,-14],[75,-17],[80,-18],[85,-14],[90.5,-20],[91,5],[91.5,-18],[95,-16],[100,-15],[110,-12],[120,-10],[130,-8],[140,-10],[150,-12],[160,-10],[175,-12],[190,-11],[200,-10]];
const r4InMax: P[] = [[0.6,57],[0.8,55],[0.95,52],[1.1,53],[1.25,55],[1.45,51],[1.6,50],[1.85,51],[2.1,46],[2.4,45],[2.8,40],[3.2,36],[3.6,32],[4,30],[5,28],[6,26],[7,24],[8,25],[9,22],[10,20],[11,19],[12,20],[13,22],[14,20],[15,23],[17,22],[19,26],[21,24],[24,30],[26,28],[27.5,38],[28.5,30],[30,32],[33,30],[36,27],[38,22],[40,15],[45,12],[50,14],[55,12],[60,5],[65,2],[70,0],[80,5],[90,10],[100,3],[110,5],[120,0],[140,-2],[160,5],[180,10],[200,14]];
const r4InMin: P[] = [[0.6,37],[0.8,34],[1.0,31],[1.1,28],[1.2,27],[1.4,26],[1.6,25],[2,22],[2.5,18],[3,14],[3.5,9],[4,5],[5,0],[6,-5],[7,-8],[8,-8],[9,-10],[10,-12],[11,-13],[12,-15],[13,-12],[15,-10],[18,-8],[20,-10],[22,-6],[25,-5],[28,-3],[30,-5],[33,-3],[36,-5],[40,-12],[45,-15],[50,-12],[55,-15],[60,-20],[65,-23],[200,-23]];

// ---------- axes, labels ----------
const X_TICKS = [0.6, 0.7, 0.8, 0.9, 1, 2, 3, 4, 5, 6, 7, 8, 9, 10, 20, 30, 40, 50, 60, 70, 80, 90, 100, 200];
const X_LABELED = [1, 2, 4, 10, 50, 100, 200];
const Y_TICKS = [-20, 0, 20, 40, 60, 80];
const PANEL_TITLES = ["Wind farm", "Outside building", "Inside building"];
const LEGEND_LABELS = ["rated", "below rated", "off", "max/min rated"];
const CAPTIONS = ["(a) Resident 1", "(b) Resident 2", "(c) Resident 3", "(d) Resident 4"];
const X_TITLE = "Frequency in Hz";

// ===================== STYLE / LAYOUT =====================
const C_RATED = "#000000";
const C_BELOW = "#0000ff";
const C_OFF = "#808080";
const C_BAND = "rgba(175,175,175,0.42)";
const C_GRID = "#b4b4b4";
const FONT = "'DejaVu Sans', sans-serif";

const PLOT_W = 475;
const PLOT_H = 156;
const COL_X = [95, 712];
const ROW_TOPS = [[33, 222, 410], [743, 931, 1120]];
const YW = 62, PT = 22, PR = 30, XB = 34, XT = 22;

Chart.defaults.font.family = FONT;
Chart.defaults.color = "#000";

interface PanelData { rated: P[]; below: P[]; off: P[]; max: P[]; min: P[]; }

const RESIDENTS: { col: number; row: number; legend: boolean; panels: PanelData[] }[] = [
  { col: 0, row: 0, legend: true, panels: [
    { rated: r1WfRated, below: r1WfBelow, off: r1WfOff, max: r1WfMax, min: r1WfMin },
    { rated: r1OutRated, below: r1OutBelow, off: r1OutOff, max: r1OutMax, min: r1OutMin },
    { rated: r1InRated, below: r1InBelow, off: r1InOff, max: r1InMax, min: r1InMin } ] },
  { col: 1, row: 0, legend: false, panels: [
    { rated: r2WfRated, below: r2WfBelow, off: r2WfOff, max: r2WfMax, min: r2WfMin },
    { rated: r2OutRated, below: r2OutBelow, off: r2OutOff, max: r2OutMax, min: r2OutMin },
    { rated: r2InRated, below: r2InBelow, off: r2InOff, max: r2InMax, min: r2InMin } ] },
  { col: 0, row: 1, legend: true, panels: [
    { rated: r3WfRated, below: r3WfBelow, off: r3WfOff, max: r3WfMax, min: r3WfMin },
    { rated: r3OutRated, below: r3OutBelow, off: r3OutOff, max: r3OutMax, min: r3OutMin },
    { rated: r3InRated, below: r3InBelow, off: r3InOff, max: r3InMax, min: r3InMin } ] },
  { col: 1, row: 1, legend: false, panels: [
    { rated: r4WfRated, below: r4WfBelow, off: r4WfOff, max: r4WfMax, min: r4WfMin },
    { rated: r4OutRated, below: r4OutBelow, off: r4OutOff, max: r4OutMax, min: r4OutMin },
    { rated: r4InRated, below: r4InBelow, off: r4InOff, max: r4InMax, min: r4InMin } ] },
];

const xy = (arr: P[]) => arr.map(([x, y]) => ({ x, y }));

const framePlugin = {
  id: "frameTicks",
  afterDraw(chart: any) {
    const { ctx, chartArea: a, scales } = chart;
    ctx.save();
    ctx.strokeStyle = "#333";
    ctx.lineWidth = 1;
    ctx.strokeRect(a.left + 0.5, a.top + 0.5, a.right - a.left - 1, a.bottom - a.top - 1);
    ctx.beginPath();
    for (const v of X_TICKS) {
      const px = Math.round(scales.x.getPixelForValue(v)) + 0.5;
      const len = X_LABELED.includes(v) ? 4 : 2.5;
      ctx.moveTo(px, a.bottom);
      ctx.lineTo(px, a.bottom + len);
    }
    for (const v of Y_TICKS) {
      const py = Math.round(scales.y.getPixelForValue(v)) + 0.5;
      ctx.moveTo(a.left - 4, py);
      ctx.lineTo(a.left, py);
    }
    ctx.stroke();
    ctx.restore();
  },
};

const LEGEND_POS = [
  { x0: 0.028, x1: 0.084, tx: 0.096 },
  { x0: 0.222, x1: 0.274, tx: 0.29 },
  { x0: 0.513, x1: 0.565, tx: 0.58 },
  { x0: 0.685, x1: 0.741, tx: 0.757 },
];
const LEGEND_COLORS = [C_RATED, C_BELOW, C_OFF, C_BAND];

const legendPlugin = {
  id: "insideLegend",
  afterDatasetsDraw(chart: any) {
    const { ctx, chartArea: a } = chart;
    const w = a.right - a.left;
    const h = a.bottom - a.top;
    const y = a.top + 0.88 * h;
    ctx.save();
    ctx.font = `13px ${FONT}`;
    ctx.textBaseline = "middle";
    LEGEND_LABELS.forEach((lab, i) => {
      const p = LEGEND_POS[i];
      const x0 = a.left + p.x0 * w;
      const x1 = a.left + p.x1 * w;
      if (i < 3) {
        ctx.strokeStyle = LEGEND_COLORS[i];
        ctx.lineWidth = 1.2;
        ctx.beginPath();
        ctx.moveTo(x0, y);
        ctx.lineTo(x1, y);
        ctx.stroke();
      } else {
        ctx.fillStyle = LEGEND_COLORS[i];
        ctx.fillRect(x0, y - 5.5, x1 - x0, 11);
      }
      ctx.fillStyle = "#222";
      ctx.fillText(lab, a.left + p.tx * w, y + 0.5);
    });
    ctx.restore();
  },
};

function Panel({ data, left, top, bottom, legend }: { data: PanelData; left: number; top: number; bottom: boolean; legend: boolean }) {
  const ref = useRef<HTMLCanvasElement | null>(null);
  const width = YW + PLOT_W + PR;
  const height = PT + PLOT_H + (bottom ? XB : XT);
  useEffect(() => {
    const canvas = ref.current;
    if (!canvas) return;
    const lineDs = (label: string, d: P[], color: string, order: number) => ({
      label, data: xy(d), borderColor: color, borderWidth: 1.2, pointRadius: 0, tension: 0, fill: false, order,
    });
    const grid = { color: C_GRID, lineWidth: 0.8, drawTicks: false };
    const chart = new Chart(canvas, {
      type: "line",
      data: {
        datasets: [
          lineDs(LEGEND_LABELS[0], data.rated, C_RATED, 1),
          lineDs(LEGEND_LABELS[1], data.below, C_BELOW, 2),
          lineDs(LEGEND_LABELS[2], data.off, C_OFF, 3),
          { label: "max", data: xy(data.max), borderColor: "rgba(0,0,0,0)", borderWidth: 0, pointRadius: 0, backgroundColor: C_BAND, fill: "+1", order: 5 },
          { label: "min", data: xy(data.min), borderColor: "rgba(0,0,0,0)", borderWidth: 0, pointRadius: 0, fill: false, order: 6 },
        ] as any,
      },
      options: {
        responsive: false,
        animation: false,
        events: [],
        layout: { padding: { left: 0, right: PR, top: PT, bottom: 0 } },
        plugins: { legend: { display: false }, tooltip: { enabled: false }, title: { display: false } },
        scales: {
          x: {
            type: "logarithmic",
            min: 0.6,
            max: 200,
            bounds: "data",
            afterBuildTicks: (s: any) => { s.ticks = X_TICKS.map((v) => ({ value: v })); },
            afterFit: (s: any) => { s.height = bottom ? XB : XT; },
            ticks: {
              display: bottom,
              autoSkip: false,
              maxRotation: 0,
              minRotation: 0,
              padding: 4,
              color: "#000",
              font: { size: 20, family: FONT },
              callback: (v: any) => (X_LABELED.includes(Number(v)) ? String(v) : ""),
            },
            grid,
            border: { display: false, dash: [1.5, 2.5] },
          } as any,
          y: {
            type: "linear",
            min: -20,
            max: 80,
            afterBuildTicks: (s: any) => { s.ticks = Y_TICKS.map((v) => ({ value: v })); },
            afterFit: (s: any) => { s.width = YW; },
            ticks: {
              padding: 8,
              color: "#000",
              font: { size: 20, family: FONT },
              callback: (v: any) => (Number(v) < 0 ? "\u2212" + Math.abs(Number(v)) : String(v)),
            },
            grid,
            border: { display: false, dash: [1.5, 2.5] },
          } as any,
        },
      },
      plugins: legend ? [framePlugin, legendPlugin] : [framePlugin],
    } as any);
    return () => chart.destroy();
  }, []);
  return (
    <canvas
      ref={ref}
      width={width}
      height={height}
      style={{ position: "absolute", left: left - YW, top: top - PT, width, height, display: "block" }}
    />
  );
}

export default function App() {
  return (
    <div style={{ position: "absolute", left: 0, top: 0, width: 1214, height: 1385, background: "#fff", fontFamily: FONT, color: "#000" }}>
      {RESIDENTS.map((r, ri) => {
        const px = COL_X[r.col];
        const tops = ROW_TOPS[r.row];
        const bottomEdge = tops[2] + PLOT_H;
        const yMid = tops[1] + PLOT_H / 2;
        return (
          <React.Fragment key={ri}>
            {r.panels.map((p, pi) => (
              <React.Fragment key={pi}>
                <div style={{ position: "absolute", left: px, top: tops[pi] - 27, width: PLOT_W, textAlign: "center", fontSize: 20, lineHeight: "24px", whiteSpace: "nowrap" }}>
                  {PANEL_TITLES[pi]}
                </div>
                <Panel data={p} left={px} top={tops[pi]} bottom={pi === 2} legend={r.legend && pi === 0} />
              </React.Fragment>
            ))}
            <div style={{ position: "absolute", left: px, top: bottomEdge + 30, width: PLOT_W, textAlign: "center", fontSize: 20, lineHeight: "24px", whiteSpace: "nowrap" }}>
              {X_TITLE}
            </div>
            <div style={{ position: "absolute", left: px - 73 - 150, top: yMid - 12, width: 300, textAlign: "center", fontSize: 20, lineHeight: "24px", whiteSpace: "nowrap", transform: "rotate(-90deg)" }}>
              SPL (dB re 20 <i>μ</i> Pa)
            </div>
            <div style={{ position: "absolute", left: px + 205 - 150, top: bottomEdge + 91 - 15, width: 300, textAlign: "center", fontSize: 26, lineHeight: "30px", whiteSpace: "nowrap", fontFamily: "'Liberation Serif', serif", letterSpacing: "0.8px" }}>
              {CAPTIONS[ri]}
            </div>
          </React.Fragment>
        );
      })}
    </div>
  );
}
